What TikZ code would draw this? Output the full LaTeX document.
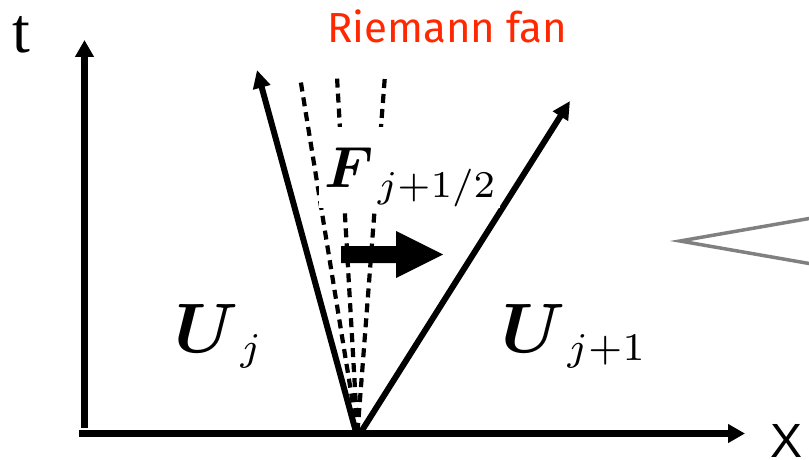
\documentclass[tikz,border=0pt]{standalone}
\usepackage{amsmath}
\usepackage{graphicx}
\usepackage{fontspec}
\newfontfamily\fanfont{Fira Sans}
\newfontfamily\tfont{Liberation Serif}
\newfontfamily\xfont{Liberation Sans}
\usetikzlibrary{arrows.meta}
\definecolor{fanred}{RGB}{255,40,0}
\definecolor{callgray}{RGB}{128,128,128}
\tikzset{
  axis/.style={line width=7pt, -{Triangle[length=17pt,width=18pt]}},
  wave/.style={line width=6pt, -{Triangle[length=18pt,width=17pt]}},
  fanline/.style={line width=4.2pt, dash pattern=on 9pt off 6pt},
  lbl/.style={inner sep=0pt, anchor=base west},
}
\begin{document}
\begin{tikzpicture}[x=1pt,y=-1pt]
\useasboundingbox (0,0) rectangle (809,460);
% axes
\coordinate (xs) at (79,433.5);
\coordinate (xe) at (745,433.5);
\coordinate (ts) at (84.5,428);
\coordinate (te) at (84.5,40);
\draw[axis] (xs) -- (xe);
\draw[axis] (ts) -- (te);
\node[lbl] (tl) at (12,53) {\tfont\fontsize{64}{64}\selectfont t};
\node[lbl] (xl) at (770,457) {\xfont\fontsize{48}{48}\selectfont X};
% fan
\coordinate (o) at (357.5,432);
\coordinate (d1) at (300,77);
\coordinate (d2) at (337,77);
\coordinate (d3) at (385,75);
\draw[fanline] (o) -- (d1);
\draw[fanline] (o) -- (d2);
\draw[fanline] (o) -- (d3);
\coordinate (ol) at (356,432);
\coordinate (or) at (361,432);
\coordinate (wl) at (257,70);
\coordinate (wr) at (570,101);
\draw[wave] (ol) -- (wl);
\draw[wave] (or) -- (wr);
% flux label
\node[lbl, fill=white, inner xsep=5pt, text height=60pt, text depth=21pt] (F) at (319,187)
  {\scalebox{5.8}{$\boldsymbol{F}$}\hspace{4pt}\raisebox{-10pt}{\scalebox{5.4}{$\scriptstyle j+1/2$}}};
% thick arrow
\fill (341,246) -- (396,246) -- (396,231) -- (443,254.5) -- (396,278) -- (396,263) -- (341,263) -- cycle;
% states
\node[lbl] (Uj) at (174,352)
  {\scalebox{7}{$\boldsymbol{U}$}\hspace{2pt}\raisebox{-8pt}{\scalebox{5.6}{$\scriptstyle j$}}};
\node[lbl] (Uj1) at (501,352)
  {\scalebox{7}{$\boldsymbol{U}$}\hspace{2pt}\raisebox{-8pt}{\scalebox{5.6}{$\scriptstyle j+1$}}};
% title
\node[lbl, text=fanred] (rf) at (327,43) {\fanfont\fontsize{42}{42}\selectfont Riemann fan};
% callout
\coordinate (c1) at (812,218);
\coordinate (c0) at (680,241);
\coordinate (c2) at (812,264);
\draw[callgray, line width=3.5pt, line join=miter] (c1) -- (c0) -- (c2);
\end{tikzpicture}
\end{document}
